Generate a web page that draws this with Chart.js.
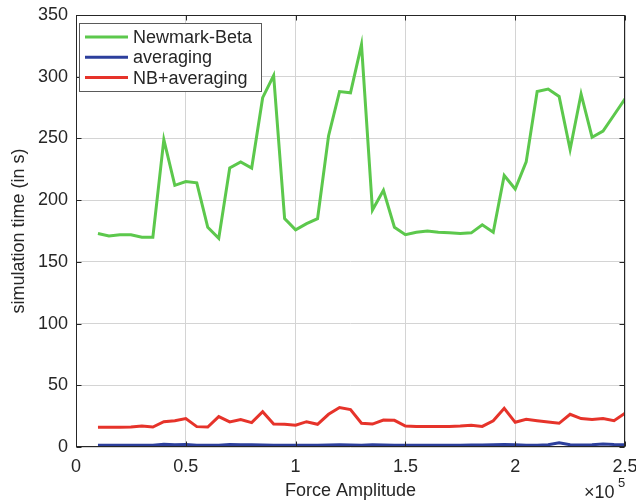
<!DOCTYPE html>
<html>
<head>
<meta charset="utf-8">
<script src="https://cdn.jsdelivr.net/npm/chart.js@4/dist/chart.umd.min.js"></script>
<style>
  body { margin: 0; background: #fff; }
  #wrap { width: 636px; height: 502px; }
</style>
</head>
<body>
<div id="wrap"><canvas id="chart-sim" width="636" height="502"></canvas></div>
<script>
// force amplitudes (N)
const forces = [
  10000, 15000, 20000, 25000, 30000, 35000, 40000, 45000, 50000, 55000,
  60000, 65000, 70000, 75000, 80000, 85000, 90000, 95000, 100000, 105000,
  110000, 115000, 120000, 125000, 130000, 135000, 140000, 145000, 150000, 155000,
  160000, 165000, 170000, 175000, 180000, 185000, 190000, 195000, 200000, 205000,
  210000, 215000, 220000, 225000, 230000, 235000, 240000, 245000, 250000
];

// simulation times in s
const newmarkBeta = [
  173, 171, 172, 172, 170, 170, 249, 212, 215, 214,
  178, 169, 226, 231, 226, 283, 301, 185, 176, 181,
  185, 252, 288, 287, 326, 192, 208, 178, 172, 174,
  175, 174, 173.5, 173, 173.5, 180, 174, 220, 209, 231,
  288, 290, 284, 241, 286, 251, 256, 269, 282
];

const averaging = [
  1.5, 1.5, 1.5, 1.5, 1.5, 1.5, 2.2, 1.8, 2, 1.5,
  1.5, 1.5, 2, 1.8, 1.8, 1.6, 1.5, 1.5, 1.5, 1.5,
  1.5, 1.6, 1.8, 1.6, 1.5, 1.8, 1.6, 1.5, 1.5, 1.5,
  1.5, 1.5, 1.5, 1.5, 1.6, 1.6, 1.8, 2, 1.8, 1.5,
  1.5, 1.8, 3.5, 1.8, 1.6, 1.8, 2.5, 2, 1.8
];

const nbAveraging = [
  16, 16, 16, 16.2, 17, 16.2, 20.5, 21.3, 23, 16.5,
  16.2, 24.6, 20.3, 22.2, 19.7, 28.6, 18.6, 18.4, 17.6, 20.5,
  18.4, 26.5, 32, 30.3, 19.2, 18.6, 21.9, 21.6, 17, 16.7,
  16.7, 16.7, 16.7, 17, 17.6, 16.7, 21.3, 31.3, 20, 22.4,
  21.3, 20.3, 19.2, 26.5, 23, 22.2, 23, 21.3, 27.3
];

const seriesNames = ["Newmark-Beta", "averaging", "NB+averaging"];
const seriesColors = ["#5cc84c", "#2c3f9c", "#e6332a"];
const xTicks = [0, 50000, 100000, 150000, 200000, 250000];
const yTicks = [0, 50, 100, 150, 200, 250, 300, 350];

const FONT = "'Liberation Sans', Arial, sans-serif";
const TXT = "#262626";

function toPoints(values) {
  return values.map((v, i) => ({ x: forces[i], y: v }));
}

// box, inward ticks, exponent label and legend like matlab
const matlabAxes = {
  id: "matlabAxes",
  afterDraw(chart) {
    const ctx = chart.ctx;
    const a = chart.chartArea;
    const xs = chart.scales.x;
    const ys = chart.scales.y;
    const L = Math.round(a.left) + 0.5;
    const R = Math.round(a.right) - 0.5;
    const T = Math.round(a.top) + 0.5;
    const B = Math.round(a.bottom) - 0.5;
    const tick = 5;

    ctx.save();
    ctx.strokeStyle = TXT;
    ctx.lineWidth = 1;
    ctx.strokeRect(L, T, R - L, B - T);

    ctx.beginPath();
    xTicks.forEach((t) => {
      const px = Math.round(xs.getPixelForValue(t)) + 0.5;
      ctx.moveTo(px, B);
      ctx.lineTo(px, B - tick);
      ctx.moveTo(px, T);
      ctx.lineTo(px, T + tick);
    });
    yTicks.forEach((t) => {
      const py = Math.round(ys.getPixelForValue(t)) + 0.5;
      ctx.moveTo(L, py);
      ctx.lineTo(L + tick, py);
      ctx.moveTo(R, py);
      ctx.lineTo(R - tick, py);
    });
    ctx.stroke();

    // x10^5
    ctx.fillStyle = TXT;
    ctx.textBaseline = "alphabetic";
    ctx.textAlign = "left";
    ctx.font = "18px " + FONT;
    ctx.fillText("\u00d710", 584, 498);
    ctx.font = "13px " + FONT;
    ctx.fillText("5", 618, 487);

    // legend
    const lx = 79.5, ly = 23.5, lw = 182, lh = 68;
    ctx.fillStyle = "#fff";
    ctx.fillRect(lx, ly, lw, lh);
    ctx.strokeStyle = "#5a5a5a";
    ctx.strokeRect(lx, ly, lw, lh);
    ctx.font = "18px " + FONT;
    ctx.textBaseline = "middle";
    seriesNames.forEach((name, i) => {
      const y = 37 + i * 20.3;
      ctx.strokeStyle = seriesColors[i];
      ctx.lineWidth = 3;
      ctx.beginPath();
      ctx.moveTo(85, y);
      ctx.lineTo(128, y);
      ctx.stroke();
      ctx.fillStyle = TXT;
      ctx.fillText(name, 133, y + 1);
    });
    ctx.restore();
  },
};

const ctxSim = document.getElementById("chart-sim");

new Chart(ctxSim, {
  type: "line",
  data: {
    datasets: [
      { label: seriesNames[0], data: toPoints(newmarkBeta), borderColor: seriesColors[0] },
      { label: seriesNames[1], data: toPoints(averaging), borderColor: seriesColors[1] },
      { label: seriesNames[2], data: toPoints(nbAveraging), borderColor: seriesColors[2] },
    ],
  },
  options: {
    responsive: false,
    animation: false,
    devicePixelRatio: 1,
    layout: { padding: { top: 15, right: 11, left: 0, bottom: 0 } },
    elements: {
      point: { radius: 0 },
      line: { borderWidth: 3, tension: 0, fill: false },
    },
    plugins: {
      legend: { display: false },
      tooltip: { enabled: false },
    },
    scales: {
      x: {
        type: "linear",
        min: 0,
        max: 250000,
        afterFit: (s) => {
          s.height = 55;
          s.paddingLeft = 0;
          s.paddingRight = 0;
        },
        afterBuildTicks: (s) => { s.ticks = xTicks.map((v) => ({ value: v })); },
        ticks: {
          padding: 9,
          color: TXT,
          font: { family: FONT, size: 18 },
          maxRotation: 0,
          callback: (v) => String(v / 100000),
        },
        grid: { color: "#d4d4d4", drawTicks: false },
        border: { display: false },
        title: {
          display: true,
          text: "Force Amplitude",
          color: TXT,
          font: { family: FONT, size: 18 },
          padding: { top: 0, bottom: 0 },
        },
      },
      y: {
        min: 0,
        max: 350,
        afterFit: (s) => {
          s.width = 76;
          s.paddingTop = 0;
          s.paddingBottom = 0;
        },
        afterBuildTicks: (s) => { s.ticks = yTicks.map((v) => ({ value: v })); },
        ticks: {
          padding: 8,
          color: TXT,
          font: { family: FONT, size: 18 },
        },
        grid: { color: "#d4d4d4", drawTicks: false },
        border: { display: false },
        title: {
          display: true,
          text: "simulation time (in s)",
          color: TXT,
          font: { family: FONT, size: 18 },
          padding: { top: 8, bottom: 0 },
        },
      },
    },
  },
  plugins: [matlabAxes],
});
</script>
</body>
</html>
